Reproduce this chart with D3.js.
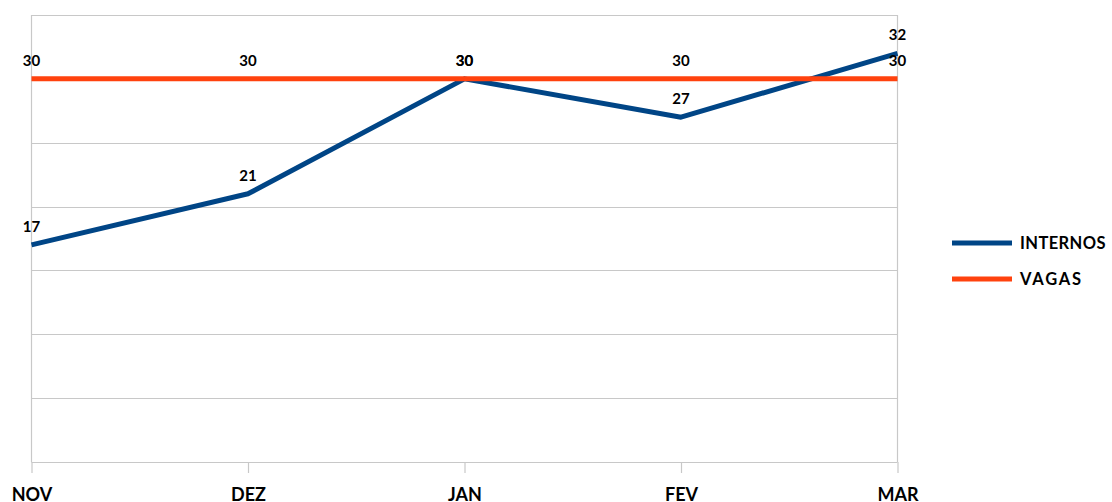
<!DOCTYPE html>
<html><head><meta charset="utf-8">
<script src="https://cdn.jsdelivr.net/npm/d3@7"></script>
<style>body{margin:0;background:#fff}svg{display:block}text{font-family:Lato,"Open Sans",sans-serif;font-weight:bold}</style>
</head><body>
<svg id="c" width="1112" height="502"></svg>
<script>
const categories = ["NOV","DEZ","JAN","FEV","MAR"];
const internos = [17,21,30,27,32];
const vagas = [30,30,30,30,30];
const seriesNames = ["INTERNOS","VAGAS"];
const colors = ["#004586","#ff420e"];
const yTicks = [0,5,10,15,20,25,30,35];

const svg = d3.select("#c");
const m = {l:31.5, r:897.5, t:15, b:462};
const x = d3.scalePoint().domain(categories).range([m.l, m.r]);
const y = d3.scaleLinear().domain([0,35]).range([m.b, m.t]);

// gridlines
svg.append("g").selectAll("line").data(yTicks).join("line")
  .attr("x1", m.l).attr("x2", m.r)
  .attr("y1", d=>Math.round(y(d))+0.5).attr("y2", d=>Math.round(y(d))+0.5)
  .attr("stroke", "#c8c8c8").attr("stroke-width",1.2);
[m.l, m.r].forEach(px=>svg.append("line").attr("x1",px).attr("x2",px).attr("y1",m.t).attr("y2",m.b)
  .attr("stroke","#c8c8c8").attr("stroke-width",1.2));

// x axis
const xa = svg.append("g").attr("transform",`translate(0,${m.b})`)
  .call(d3.axisBottom(x).tickSize(11).tickPadding(15));
xa.select(".domain").remove();
xa.selectAll(".tick line").attr("stroke","#c8c8c8").attr("stroke-width",1.2);
xa.selectAll(".tick text").attr("fill","#000").style("font-size","18px").style("font-family","Lato,sans-serif").style("font-weight","bold");

const line = d3.line().x((d,i)=>x(categories[i])).y(d=>y(d));
const data = [internos, vagas];
svg.append("path").datum(internos).attr("d", line).attr("fill","none").attr("stroke",colors[0]).attr("stroke-width",5).attr("stroke-linejoin","round");
svg.append("path").datum(vagas).attr("d", line).attr("fill","none").attr("stroke",colors[1]).attr("stroke-width",5);

// data labels
data.forEach(s=>{
  svg.append("g").selectAll("text").data(s).join("text")
    .attr("x",(d,i)=>x(categories[i])).attr("y",d=>y(d)-13)
    .attr("text-anchor","middle").style("font-size","15px").attr("fill","#000")
    .text(d=>d);
});

// legend
const lg = svg.append("g");
seriesNames.forEach((n,i)=>{
  const ly = 243 + i*36;
  lg.append("line").attr("x1",952).attr("x2",1012).attr("y1",ly).attr("y2",ly).attr("stroke",colors[i]).attr("stroke-width",5);
  lg.append("text").attr("x",1020).attr("y",ly+6).style("font-size","16.5px").style("letter-spacing", i==1?"1.8px":"0.4px").attr("fill","#000").text(n);
});
</script>
</body></html>
